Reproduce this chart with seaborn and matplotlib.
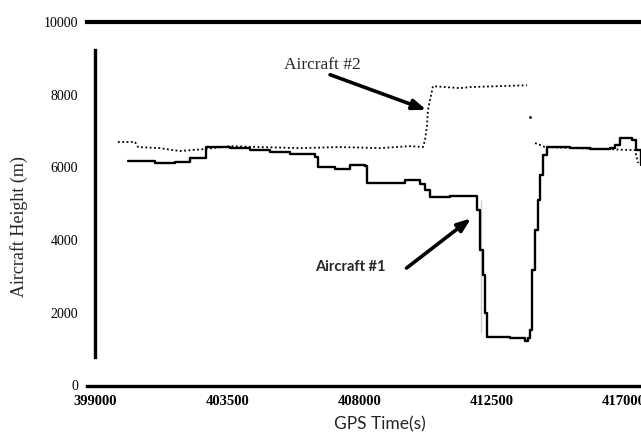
import pandas as pd
import matplotlib.pyplot as plt
import seaborn as sns
import numpy as np

sns.set_style('white')
plt.rcParams['font.family'] = ['Liberation Serif', 'DejaVu Serif']

# Aircraft #1 (solid) - GPS time (s) and height (m)
t1 = [400120, 400700, 401040, 401720, 402230, 402740, 402775, 403590, 404270,
      404955, 405630, 406315, 406485, 406590, 407170, 407680, 408190, 408255,
      409210, 409550, 410060, 410230, 410400, 411080, 411860, 411995, 412100,
      412200, 412270, 412340, 413120, 413630, 413735, 413800, 413870, 413975,
      414075, 414145, 414245, 414380, 415165, 415845, 416525, 416695, 416865,
      417275, 417410, 417580]
h1 = [6175, 6175, 6120, 6145, 6255, 6255, 6560, 6530, 6475,
      6420, 6365, 6365, 6285, 6010, 5955, 6065, 6040, 5570,
      5570, 5650, 5540, 5375, 5185, 5210, 5210, 4825, 3725,
      3040, 1995, 1335, 1305, 1225, 1305, 1525, 3175, 4275,
      5100, 5790, 6340, 6560, 6530, 6505, 6530, 6615, 6805,
      6750, 6475, 6065]

# thin vertical trace next to the descent
t1b = [412135, 412135]
h1b = [5100, 1445]

# Aircraft #2 (dotted), two pieces plus a lone dot
t2a = [399780, 400360, 400465, 401210, 401890, 402740, 403590, 404610, 405975,
       407335, 408700, 409720, 410160, 410230, 410300, 410330, 410400, 410500,
       411420, 411760, 412780, 413700]
h2a = [6700, 6700, 6560, 6530, 6450, 6505, 6585, 6560, 6530,
       6560, 6530, 6585, 6560, 6750, 7165, 7575, 7850, 8235,
       8180, 8210, 8235, 8260]
t2b = [413975, 414315, 417375, 417480]
h2b = [6670, 6560, 6475, 6120]
t2_dot = [413800]
h2_dot = [7380]

x_ticks = [399000, 403500, 408000, 412500, 417000]
y_ticks = [0, 2000, 4000, 6000, 8000, 10000]

fig = plt.figure(figsize=(6.41, 4.37), dpi=100)
ax = fig.add_axes([87 / 641, 51.5 / 437, 554 / 641, 363.5 / 437])

sns.lineplot(x=t1, y=h1, ax=ax, color='black', linewidth=1.7, sort=False,
             drawstyle='steps-post')
sns.lineplot(x=t1b, y=h1b, ax=ax, color='black', linewidth=1.2, sort=False)
for tt, hh in [(t2a, h2a), (t2b, h2b)]:
    sns.lineplot(x=tt, y=hh, ax=ax, color='black', linewidth=1.3, sort=False,
                 linestyle=(0, (1, 1.4)))
sns.scatterplot(x=t2_dot, y=h2_dot, ax=ax, color='black', s=4, linewidth=0)

ax.set_xlim(398728, 417580)
ax.set_ylim(0, 10000)
ax.set_xticks(x_ticks)
ax.set_yticks(y_ticks)
ax.set_xticklabels([str(v) for v in x_ticks], fontsize=10.5, fontweight='bold')
ax.set_yticklabels([str(v) for v in y_ticks], fontsize=11, fontweight='bold')

for s in ['top', 'bottom', 'left']:
    ax.spines[s].set_visible(True)
    ax.spines[s].set_color('black')
ax.spines['right'].set_visible(False)
ax.spines['top'].set_linewidth(3)
ax.spines['bottom'].set_linewidth(2.4)
ax.spines['left'].set_linewidth(2.4)
ax.spines['left'].set_position(('data', 399000))
ax.spines['left'].set_bounds(790, 9220)

ax.tick_params(axis='y', direction='out', length=7, width=2.4, pad=5, colors='black')
ax.tick_params(axis='x', direction='out', length=4, width=2, pad=3, colors='black')
# the 0 and 10000 ticks have no marks on the scan
for t in [ax.yaxis.get_major_ticks()[0], ax.yaxis.get_major_ticks()[-1]]:
    t.tick1line.set_visible(False)

ax.set_xlabel('GPS Time(s)', fontsize=12.5, family='Lato')
ax.xaxis.set_label_coords((380 - 87) / 554, -0.086)
ax.set_ylabel('Aircraft Height (m)', fontsize=13)
ax.yaxis.set_label_coords(-0.106, 0.436)

arrow = dict(arrowstyle='-|>,head_length=0.8,head_width=0.3', color='black',
             lw=2.6, shrinkA=0, shrinkB=0)
ax.text(406750, 8830, 'Aircraft #2', fontsize=12.5, ha='center', va='center')
ax.annotate('', xy=(410280, 7580), xytext=(407000, 8550), arrowprops=arrow)
ax.text(407700, 3260, 'Aircraft #1', fontsize=10.5, ha='center', va='center',
        family='Lato', fontweight='bold')
ax.annotate('', xy=(411800, 4600), xytext=(409600, 3230), arrowprops=arrow)

fig.savefig('out.png', dpi=100)
